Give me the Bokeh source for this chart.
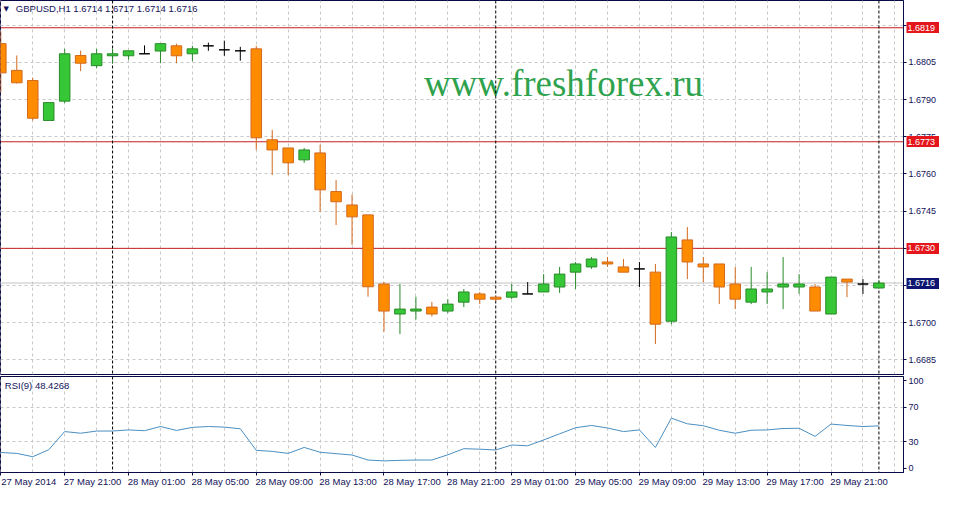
import numpy as np
from bokeh.plotting import figure
from bokeh.layouts import column
from bokeh.models import (Range1d, FixedTicker, Span, Label, PrintfTickFormatter, ColumnDataSource,
                          LinearAxis)
from bokeh.embed import file_html
from bokeh.resources import INLINE

# ---------------- data ----------------
symbol = "GBPUSD,H1"
opens = [1.68126, 1.68018, 1.67977, 1.67816, 1.67894, 1.68078, 1.68037, 1.68077, 1.68077, 1.68085,
         1.68096, 1.68117, 1.68085, 1.68117, 1.68101, 1.68097, 1.68105, 1.67738, 1.67705, 1.67657,
         1.67685, 1.67529, 1.67475, 1.67435, 1.67156, 1.67035, 1.67047, 1.67063, 1.67047, 1.67083,
         1.67116, 1.67103, 1.67103, 1.67116, 1.67124, 1.67144, 1.67204, 1.67225, 1.67245, 1.67225,
         1.67217, 1.67204, 1.67006, 1.67334, 1.67237, 1.67237, 1.67156, 1.67083, 1.67124, 1.67144,
         1.67144, 1.67144, 1.67035, 1.67176, 1.67156, 1.6714]
highs = [1.68175, 1.68078, 1.67988, 1.67888, 1.68105, 1.68098, 1.68105, 1.68105, 1.68097, 1.68119,
         1.68126, 1.68126, 1.68117, 1.68130, 1.68138, 1.68113, 1.68117, 1.67778, 1.67705, 1.67705,
         1.67718, 1.67576, 1.67517, 1.67435, 1.67164, 1.67156, 1.67105, 1.67084, 1.67095, 1.67136,
         1.67124, 1.67107, 1.67156, 1.67164, 1.67196, 1.67225, 1.67245, 1.67265, 1.67265, 1.67257,
         1.67245, 1.67237, 1.67366, 1.67386, 1.67265, 1.67237, 1.67225, 1.67225, 1.67204, 1.67265,
         1.67196, 1.67156, 1.67184, 1.67176, 1.67176, 1.6717]
lows = [1.67929, 1.67965, 1.67816, 1.67816, 1.67886, 1.68015, 1.68027, 1.68047, 1.68061, 1.68085,
        1.68047, 1.68047, 1.68055, 1.68097, 1.68077, 1.68057, 1.67697, 1.67596, 1.67596, 1.67645,
        1.67448, 1.67394, 1.67314, 1.67105, 1.66964, 1.66954, 1.67013, 1.67025, 1.67039, 1.67063,
        1.67075, 1.67087, 1.67095, 1.67116, 1.67124, 1.67120, 1.67136, 1.67217, 1.67225, 1.67204,
        1.67144, 1.66914, 1.66994, 1.67176, 1.67164, 1.67075, 1.67055, 1.67075, 1.67075, 1.67055,
        1.67116, 1.67047, 1.67035, 1.67103, 1.67116, 1.6714]
closes = [1.68008, 1.67968, 1.67825, 1.67888, 1.68085, 1.68047, 1.68085, 1.68085, 1.68097, 1.68085,
          1.68126, 1.68077, 1.68105, 1.68117, 1.68101, 1.68097, 1.67746, 1.67697, 1.67645, 1.67697,
          1.67536, 1.67488, 1.67427, 1.67145, 1.67047, 1.67055, 1.67055, 1.67035, 1.67075, 1.67124,
          1.67095, 1.67095, 1.67124, 1.67116, 1.67156, 1.67196, 1.67237, 1.67257, 1.67237, 1.67204,
          1.67217, 1.66994, 1.67346, 1.67245, 1.67225, 1.67144, 1.67095, 1.67136, 1.67136, 1.67156,
          1.67156, 1.67047, 1.67184, 1.67164, 1.67156, 1.6716]
rsi_period = 9
rsi = [17.9, 16.9, 13.1, 21.1, 41.9, 40.0, 42.5, 42.5, 43.8, 42.9, 47.7, 43.2, 46.7, 47.7, 47.0, 45.1,
       20.4, 19.2, 16.9, 23.7, 18.2, 16.6, 15.0, 9.3, 8.3, 8.9, 9.3, 9.3, 15.3, 22.3, 21.7, 20.8,
       26.5, 25.6, 32.3, 39.3, 46.3, 48.9, 46.0, 41.9, 43.8, 23.7, 57.3, 50.8, 48.6, 43.4, 40.0, 43.4,
       43.8, 45.4, 45.7, 36.4, 50.5, 48.9, 47.7, 48.4268]
level_prices = [1.6819, 1.6773, 1.6730]
bid_price = 1.6716
price_ticks = [1.6685, 1.6700, 1.6715, 1.6730, 1.6745, 1.6760, 1.6775, 1.6790, 1.6805, 1.6820]
rsi_ticks = [0, 30, 70, 100]
rsi_grid = [30, 70]
time_label_idx = [0, 4, 8, 12, 16, 20, 24, 28, 32, 36, 40, 44, 48, 52]
time_labels = ["27 May 2014", "27 May 21:00", "28 May 01:00", "28 May 05:00", "28 May 09:00",
               "28 May 13:00", "28 May 17:00", "28 May 21:00", "29 May 01:00", "29 May 05:00",
               "29 May 09:00", "29 May 13:00", "29 May 17:00", "29 May 21:00"]
day_start_idx = [7, 31, 55]
watermark = "www.freshforex.ru"

# ---------------- styling ----------------
FONT = "Liberation Sans"
NAVY = "#12125a"
FRAME = "#0a0a46"
GRID = "#c8c8c8"
BULL_FILL, BULL_LINE = "#35c735", "#2a8a2a"
BEAR_FILL, BEAR_LINE = "#ff8c00", "#d2691e"
LEVEL = "#c81e1e"
LEVEL_BOX = "#e4161c"
BID_BOX = "#0c1670"

n = len(opens)
idx = list(range(n))
fills, lines = [], []
for o, c in zip(opens, closes):
    if c > o:
        fills.append(BULL_FILL); lines.append(BULL_LINE)
    elif c < o:
        fills.append(BEAR_FILL); lines.append(BEAR_LINE)
    else:
        fills.append("black"); lines.append("black")
src = ColumnDataSource(dict(x=idx, o=opens, h=highs, l=lows, c=closes,
                            top=[max(a, b) for a, b in zip(opens, closes)],
                            bottom=[min(a, b) for a, b in zip(opens, closes)],
                            fill=fills, line=lines))

x_range = Range1d(-0.02, 56.54)

p1 = figure(width=939, height=376, x_range=x_range, y_range=Range1d(1.66791, 1.68300),
            x_axis_location=None, y_axis_location="right",
            toolbar_location=None, output_backend="svg",
            min_border_left=0, min_border_top=0, min_border_bottom=2, min_border_right=34)
p2 = figure(width=939, height=113, x_range=x_range, y_range=Range1d(-5, 105),
            y_axis_location="right", toolbar_location=None, output_backend="svg",
            min_border_left=0, min_border_top=0, min_border_bottom=12, min_border_right=34)

for p in (p1, p2):
    p.outline_line_color = FRAME
    p.outline_line_width = 1
    p.background_fill_color = "white"
    p.border_fill_color = "white"
    p.xgrid.ticker = FixedTicker(ticks=list(range(0, 58, 2)))
    p.xgrid.grid_line_color = GRID
    p.xgrid.grid_line_dash = "3 3"
    p.ygrid.grid_line_color = GRID
    p.ygrid.grid_line_dash = "3 3"
    ax = p.yaxis[0]
    ax.axis_line_color = FRAME
    ax.major_tick_line_color = FRAME
    ax.major_tick_out = 3
    ax.major_tick_in = 0
    ax.minor_tick_line_color = None
    ax.major_label_standoff = 2
    ax.major_label_text_font = FONT
    ax.major_label_text_font_size = "9px"
    ax.major_label_text_color = NAVY

p1.yaxis.ticker = FixedTicker(ticks=price_ticks)
p1.yaxis.formatter = PrintfTickFormatter(format="%.4f")
p1.ygrid.ticker = FixedTicker(ticks=price_ticks)
p2.yaxis.ticker = FixedTicker(ticks=rsi_ticks)
p2.ygrid.ticker = FixedTicker(ticks=rsi_grid)

LABEL_SHIFT = 1.75
xa = p2.xaxis[0]
xa.ticker = FixedTicker(ticks=[i + LABEL_SHIFT for i in time_label_idx], minor_ticks=time_label_idx)
xa.major_label_overrides = {i + LABEL_SHIFT: t for i, t in zip(time_label_idx, time_labels)}
xa.axis_line_color = FRAME
xa.major_tick_line_color = None
xa.major_tick_out = 0
xa.major_tick_in = 0
xa.minor_tick_line_color = FRAME
xa.minor_tick_out = 3
xa.minor_tick_in = 0
xa.major_label_standoff = 0
xa.major_label_text_font = FONT
xa.major_label_text_font_size = "9.5px"
xa.major_label_text_color = NAVY

# marker price boxes on the price scale: extra right axes whose thick ticks form the boxes
def box_axis(ticks, color):
    return LinearAxis(ticker=FixedTicker(ticks=ticks), formatter=PrintfTickFormatter(format="%.4f"),
                      axis_line_color=None, minor_tick_line_color=None,
                      major_tick_line_color=color, major_tick_line_width=11, major_tick_line_cap="butt",
                      major_tick_out=0, major_tick_in=33,
                      major_label_standoff=-32, major_label_text_color="white",
                      major_label_text_font=FONT, major_label_text_font_size="9px")

p1.add_layout(box_axis(level_prices, LEVEL_BOX), "right")
p1.add_layout(box_axis([bid_price], BID_BOX), "right")

p1.add_layout(Label(x=26.5, y=1.67965, text=watermark, text_font="Liberation Serif",
                    text_font_size="37px", text_color="#2fa24e", text_baseline="alphabetic",
                    level="underlay"))

for lp in level_prices:
    p1.add_layout(Span(location=lp, dimension="width", line_color=LEVEL, line_width=1, level="underlay"))
p1.add_layout(Span(location=bid_price, dimension="width", line_color="#c4c4c4", line_width=1, level="underlay"))

for p in (p1, p2):
    for d in day_start_idx:
        p.add_layout(Span(location=d, dimension="height", line_color="black", line_dash="3 2",
                          line_width=1, level="underlay"))

p1.segment(x0="x", y0="l", x1="x", y1="h", line_color="line", line_width=1, source=src)
p1.vbar(x="x", width=0.66, top="top", bottom="bottom", fill_color="fill", line_color="line",
        line_width=1, source=src)

p2.line(idx, rsi, line_color="#4a8fc2", line_width=1)

p1.add_layout(Label(x=0.34, y=1.68266, text="\u25bc", text_font="DejaVu Sans", text_font_size="7px",
                    text_color=NAVY, text_baseline="middle", text_align="center"))
header = f"{symbol}  {opens[-1]:.4f} {highs[-1]:.4f} {lows[-1]:.4f} {closes[-1]:.4f}"
p1.add_layout(Label(x=0.94, y=1.68268, text=header, text_font=FONT, text_font_size="9.5px",
                    text_color=NAVY, text_baseline="middle", text_align="left"))

p2.add_layout(Label(x=0.25, y=95.2, text=f"RSI({rsi_period}) {rsi[-1]:.4f}", text_font=FONT,
                    text_font_size="9.5px", text_color=NAVY, text_baseline="middle", text_align="left"))

layout = column(p1, p2, spacing=0)
open("out.html", "w").write(file_html(layout, INLINE))
